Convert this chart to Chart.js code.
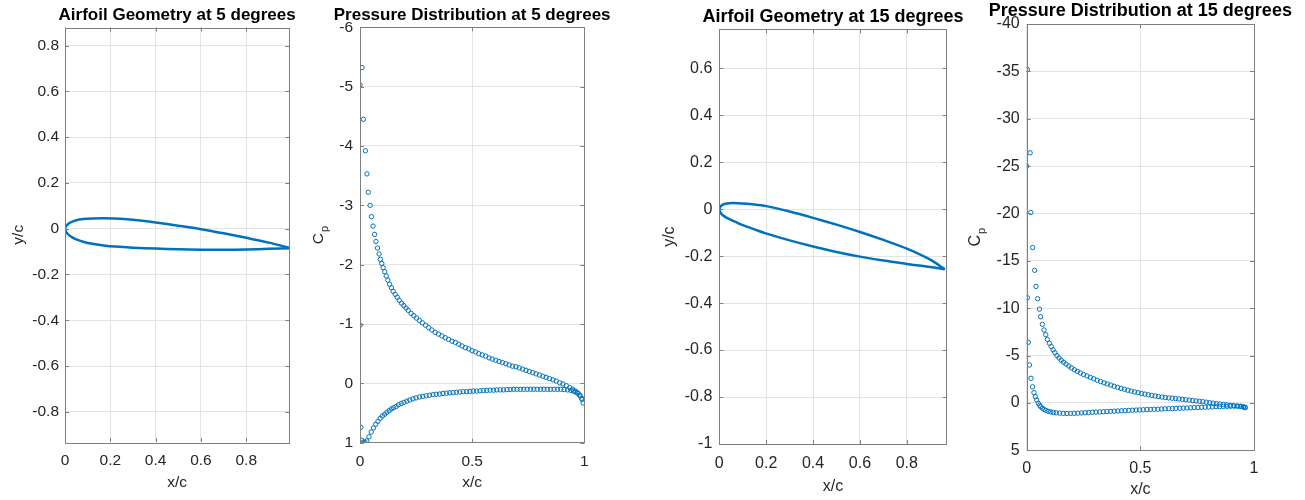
<!DOCTYPE html>
<html>
<head>
<meta charset="utf-8">
<title>Airfoil geometry and pressure distribution</title>
<script src="https://cdn.jsdelivr.net/npm/chart.js@4.4.1/dist/chart.umd.min.js"></script>
<style>
  html, body { margin: 0; padding: 0; background: #fff; }
  #fig { position: relative; width: 1305px; height: 500px; overflow: hidden; }
  #fig canvas { position: absolute; top: 0; }
</style>
</head>
<body>
<div id="fig">
  <canvas id="geo5" width="300" height="500" style="left:0px"></canvas>
  <canvas id="cp5" width="360" height="500" style="left:300px"></canvas>
  <canvas id="geo15" width="310" height="500" style="left:660px"></canvas>
  <canvas id="cp15" width="345" height="500" style="left:960px"></canvas>
</div>
<script>
'use strict';

/* AIRFOIL GEOMETRY — 5 deg (x/c, y/c) */
const upper5X = [0, 0.005, 0.015, 0.03, 0.05, 0.08, 0.12, 0.17, 0.22, 0.3, 0.4, 0.5, 0.6, 0.7, 0.8, 0.9, 0.996];
const upper5Y = [0, 0.012, 0.022, 0.030, 0.037, 0.042, 0.045, 0.046, 0.045, 0.039, 0.027, 0.013, -0.002, -0.020, -0.040, -0.061, -0.085];
const lower5X = [0, 0.005, 0.015, 0.03, 0.05, 0.08, 0.12, 0.17, 0.22, 0.3, 0.4, 0.5, 0.6, 0.7, 0.8, 0.9, 0.996];
const lower5Y = [0, -0.014, -0.026, -0.037, -0.047, -0.057, -0.066, -0.073, -0.078, -0.083, -0.087, -0.090, -0.092, -0.092, -0.091, -0.088, -0.085];

/* AIRFOIL GEOMETRY — 15 deg */
const upper15X = [0, 0.005, 0.015, 0.03, 0.06, 0.1, 0.15, 0.2, 0.3, 0.4, 0.5, 0.6, 0.7, 0.8, 0.9, 0.962];
const upper15Y = [0, 0.011, 0.019, 0.024, 0.026, 0.024, 0.020, 0.013, -0.010, -0.037, -0.066, -0.097, -0.131, -0.168, -0.215, -0.256];
const lower15X = [0, 0.005, 0.015, 0.03, 0.05, 0.067, 0.1, 0.15, 0.195, 0.3, 0.4, 0.5, 0.6, 0.7, 0.8, 0.9, 0.962];
const lower15Y = [0, -0.015, -0.026, -0.036, -0.046, -0.053, -0.068, -0.086, -0.102, -0.133, -0.159, -0.182, -0.202, -0.219, -0.233, -0.246, -0.256];

/* PRESSURE COEFFICIENT — 5 deg, suction side */
const cpUpper5X = [0, 0.009, 0.015, 0.024, 0.031, 0.037, 0.045, 0.051, 0.058, 0.065, 0.071, 0.078, 0.085, 0.091, 0.097,
  0.103, 0.110, 0.117, 0.124, 0.132, 0.140, 0.148, 0.157, 0.166, 0.175, 0.185, 0.195, 0.205, 0.215, 0.228, 0.240,
  0.252, 0.265, 0.278, 0.292, 0.306, 0.320, 0.335, 0.350, 0.365, 0.380, 0.395, 0.410, 0.425, 0.440, 0.455, 0.470,
  0.485, 0.500, 0.515, 0.530, 0.545, 0.560, 0.575, 0.590, 0.605, 0.620, 0.635, 0.650, 0.665, 0.680, 0.695, 0.710,
  0.725, 0.740, 0.755, 0.770, 0.785, 0.800, 0.815, 0.830, 0.845, 0.860, 0.875, 0.890, 0.905, 0.920, 0.935, 0.948,
  0.960, 0.970, 0.980, 0.988, 0.995];
const cpUpper5 = [-5.03, -5.32, -4.45, -3.92, -3.53, -3.22, -3.00, -2.81, -2.65, -2.51, -2.39, -2.28, -2.18, -2.09, -2.02,
  -1.95, -1.88, -1.81, -1.74, -1.67, -1.61, -1.55, -1.50, -1.45, -1.40, -1.35, -1.31, -1.27, -1.23, -1.18, -1.14,
  -1.10, -1.06, -1.02, -0.98, -0.94, -0.90, -0.86, -0.83, -0.80, -0.77, -0.74, -0.71, -0.69, -0.66, -0.63, -0.60,
  -0.58, -0.55, -0.53, -0.50, -0.48, -0.46, -0.43, -0.41, -0.39, -0.37, -0.35, -0.33, -0.31, -0.29, -0.28, -0.26,
  -0.24, -0.22, -0.20, -0.18, -0.16, -0.14, -0.12, -0.10, -0.08, -0.06, -0.04, -0.01, 0.01, 0.04, 0.07, 0.10,
  0.13, 0.16, 0.20, 0.25, 0.33];

/* PRESSURE COEFFICIENT — 5 deg, pressure side */
const cpLower5X = [0, 0.004, 0.008, 0.015, 0.022, 0.030, 0.040, 0.050, 0.060, 0.070, 0.080, 0.090, 0.100, 0.110, 0.120,
  0.130, 0.140, 0.150, 0.161, 0.172, 0.184, 0.196, 0.209, 0.222, 0.236, 0.250, 0.265, 0.280, 0.295, 0.310, 0.325,
  0.340, 0.355, 0.370, 0.385, 0.400, 0.415, 0.430, 0.445, 0.460, 0.475, 0.490, 0.505, 0.520, 0.535, 0.550, 0.565,
  0.580, 0.595, 0.610, 0.625, 0.640, 0.655, 0.670, 0.685, 0.700, 0.715, 0.730, 0.745, 0.760, 0.775, 0.790, 0.805,
  0.820, 0.835, 0.850, 0.865, 0.880, 0.895, 0.910, 0.925, 0.940, 0.952, 0.962, 0.972, 0.981, 0.990];
const cpLower5 = [-0.98, 0.74, 0.96, 0.99, 0.99, 0.97, 0.90, 0.82, 0.75, 0.69, 0.64, 0.59, 0.55, 0.52, 0.49,
  0.46, 0.43, 0.41, 0.39, 0.36, 0.34, 0.32, 0.30, 0.28, 0.26, 0.245, 0.23, 0.22, 0.21, 0.20, 0.19,
  0.185, 0.18, 0.17, 0.165, 0.16, 0.155, 0.15, 0.145, 0.14, 0.14, 0.135, 0.13, 0.13, 0.125, 0.12, 0.12,
  0.115, 0.115, 0.11, 0.11, 0.11, 0.105, 0.105, 0.10, 0.10, 0.10, 0.10, 0.10, 0.10, 0.10, 0.10, 0.10,
  0.10, 0.10, 0.10, 0.10, 0.10, 0.10, 0.105, 0.11, 0.12, 0.13, 0.15, 0.17, 0.21, 0.27];

/* PRESSURE COEFFICIENT — 15 deg, suction side */
const cpUpper15X = [0.003, 0.015, 0.018, 0.026, 0.035, 0.041, 0.048, 0.056, 0.061, 0.069, 0.076, 0.084, 0.091, 0.100,
  0.108, 0.116, 0.124, 0.133, 0.142, 0.152, 0.162, 0.173, 0.185, 0.197, 0.210, 0.223, 0.236, 0.250, 0.265, 0.280,
  0.295, 0.310, 0.325, 0.340, 0.355, 0.370, 0.385, 0.400, 0.415, 0.430, 0.445, 0.460, 0.475, 0.490, 0.505, 0.520,
  0.535, 0.550, 0.565, 0.580, 0.595, 0.610, 0.625, 0.640, 0.655, 0.670, 0.685, 0.700, 0.715, 0.730, 0.745, 0.760,
  0.775, 0.790, 0.805, 0.820, 0.835, 0.850, 0.865, 0.880, 0.895, 0.910, 0.925, 0.940, 0.952, 0.960];
const cpUpper15 = [-35.2, -26.4, -20.1, -16.4, -14.0, -12.3, -11.0, -9.9, -9.1, -8.3, -7.7, -7.2, -6.7, -6.3,
  -5.95, -5.6, -5.3, -5.0, -4.75, -4.5, -4.3, -4.1, -3.9, -3.7, -3.5, -3.33, -3.17, -3.0, -2.85, -2.7,
  -2.55, -2.4, -2.26, -2.12, -2.0, -1.88, -1.76, -1.65, -1.54, -1.44, -1.34, -1.25, -1.16, -1.08, -1.0, -0.93,
  -0.86, -0.79, -0.73, -0.67, -0.62, -0.57, -0.53, -0.50, -0.46, -0.42, -0.38, -0.34, -0.30, -0.25, -0.21, -0.17,
  -0.13, -0.08, -0.03, 0.02, 0.07, 0.12, 0.16, 0.20, 0.24, 0.28, 0.32, 0.36, 0.41, 0.46];

/* PRESSURE COEFFICIENT — 15 deg, pressure side */
const cpLower15X = [0, 0.003, 0.007, 0.012, 0.019, 0.026, 0.032, 0.038, 0.044, 0.051, 0.057, 0.062, 0.069, 0.076,
  0.085, 0.095, 0.106, 0.117, 0.130, 0.145, 0.161, 0.177, 0.193, 0.209, 0.225, 0.241, 0.257, 0.273, 0.289, 0.305,
  0.321, 0.337, 0.353, 0.369, 0.385, 0.401, 0.417, 0.433, 0.449, 0.465, 0.481, 0.497, 0.513, 0.529, 0.545, 0.561,
  0.577, 0.593, 0.609, 0.625, 0.641, 0.657, 0.673, 0.689, 0.705, 0.721, 0.737, 0.753, 0.769, 0.785, 0.801, 0.817,
  0.833, 0.849, 0.865, 0.881, 0.897, 0.913, 0.929, 0.943, 0.954, 0.962];
const cpLower15 = [-25.0, -11.1, -6.4, -4.0, -2.6, -1.7, -1.08, -0.66, -0.31, 0.04, 0.25, 0.40, 0.55, 0.68,
  0.79, 0.89, 0.95, 1.00, 1.04, 1.08, 1.10, 1.11, 1.11, 1.10, 1.08, 1.06, 1.03, 1.01, 0.99, 0.97,
  0.95, 0.93, 0.91, 0.89, 0.87, 0.85, 0.83, 0.81, 0.79, 0.77, 0.75, 0.74, 0.72, 0.70, 0.69, 0.67,
  0.66, 0.64, 0.62, 0.61, 0.59, 0.57, 0.56, 0.54, 0.53, 0.51, 0.49, 0.48, 0.46, 0.45, 0.43, 0.42,
  0.40, 0.39, 0.37, 0.36, 0.35, 0.34, 0.34, 0.36, 0.42, 0.50];

/* STYLE */
const FONT = "'Liberation Sans', Arial, Helvetica, sans-serif";
const BLUE = '#0072BD';
const INK = '#262626';
const GRID = '#e4e4e4';
const BOX = '#7f7f7f';

const pts = (xs, ys) => xs.map((x, i) => ({ x, y: ys[i] }));
const fmt = v => String(+Number(v).toFixed(2));

function lineSet(xs, ys) {
  return { data: pts(xs, ys), showLine: true, borderColor: BLUE, borderWidth: 2.5, pointRadius: 0, tension: 0.3 };
}
function dotSet(xs, ys) {
  return { data: pts(xs, ys), showLine: false, pointStyle: 'circle', pointRadius: 2.2,
    pointBorderWidth: 1, borderColor: BLUE, pointBorderColor: BLUE, backgroundColor: 'rgba(0,0,0,0)' };
}

/* BOX + INWARD TICKS (matlab look) */
const boxPlugin = {
  id: 'matBox',
  afterDatasetsDraw(chart) {
    const { ctx, chartArea: a, scales } = chart;
    const len = 4;
    ctx.save();
    ctx.strokeStyle = BOX;
    ctx.lineWidth = 1;
    ctx.beginPath();
    scales.x.ticks.forEach(t => {
      const px = Math.round(scales.x.getPixelForValue(t.value)) + 0.5;
      ctx.moveTo(px, a.bottom); ctx.lineTo(px, a.bottom - len);
      ctx.moveTo(px, a.top); ctx.lineTo(px, a.top + len);
    });
    scales.y.ticks.forEach(t => {
      const py = Math.round(scales.y.getPixelForValue(t.value)) + 0.5;
      ctx.moveTo(a.left, py); ctx.lineTo(a.left + len, py);
      ctx.moveTo(a.right, py); ctx.lineTo(a.right - len, py);
    });
    ctx.stroke();
    ctx.strokeRect(Math.round(a.left) + 0.5, Math.round(a.top) + 0.5,
      Math.round(a.right - a.left), Math.round(a.bottom - a.top));
    ctx.restore();
  }
};

/* TITLE centred on the axes box, not squeezed to its width */
const titlePlugin = {
  id: 'matTitle',
  afterDraw(chart, args, opts) {
    const { ctx, chartArea: a } = chart;
    ctx.save();
    ctx.fillStyle = '#000';
    ctx.font = `bold ${opts.size}px ${FONT}`;
    ctx.textAlign = 'center';
    ctx.textBaseline = 'middle';
    ctx.fillText(opts.text, (a.left + a.right) / 2, opts.y);
    ctx.restore();
  }
};

/* C_p axis label with subscript */
function cpLabel(baseX, size) {
  return {
    id: 'cpLabel',
    afterDraw(chart) {
      const { ctx, chartArea: a } = chart;
      const midY = (a.top + a.bottom) / 2;
      ctx.save();
      ctx.fillStyle = INK;
      ctx.textBaseline = 'alphabetic';
      ctx.textAlign = 'left';
      ctx.font = `${size}px ${FONT}`;
      const wC = ctx.measureText('C').width;
      ctx.font = `${Math.round(size * 0.7)}px ${FONT}`;
      const wP = ctx.measureText('p').width;
      ctx.translate(baseX, midY);
      ctx.rotate(-Math.PI / 2);
      const u0 = -(wC + wP + 1) / 2;
      ctx.font = `${size}px ${FONT}`;
      ctx.fillText('C', u0, 0);
      ctx.font = `${Math.round(size * 0.7)}px ${FONT}`;
      ctx.fillText('p', u0 + wC + 1, 5);
      ctx.restore();
    }
  };
}

function makeChart(id, c) {
  const el = document.getElementById(id);
  const tickFont = { family: FONT, size: c.tickSize, lineHeight: 1.2 };
  const plugins = [boxPlugin, titlePlugin];
  if (c.cp) plugins.push(cpLabel(c.cp, c.tickSize));
  return new Chart(el, {
    type: 'scatter',
    data: { datasets: c.datasets },
    options: {
      responsive: false,
      animation: false,
      events: [],
      layout: { padding: { left: 0, right: c.padRight, top: c.top, bottom: 0 }, autoPadding: false },
      plugins: {
        legend: { display: false },
        tooltip: { enabled: false },
        title: { display: false },
        matTitle: { text: c.title, size: c.titleSize, y: c.titleY }
      },
      scales: {
        x: {
          type: 'linear', min: c.xMin, max: c.xMax,
          ticks: { stepSize: c.xStep, includeBounds: false, padding: c.xTickPad, color: INK, font: tickFont,
            maxRotation: 0, autoSkip: false, callback: fmt },
          grid: { color: GRID, drawTicks: false },
          border: { display: false },
          title: { display: true, text: 'x/c', color: INK, font: tickFont, padding: { top: 0, bottom: c.xTitlePad } },
          afterFit: s => { s.height = c.xH; s.paddingLeft = 0; s.paddingRight = 0; }
        },
        y: {
          type: 'linear', min: c.yMin, max: c.yMax, reverse: !!c.reverse,
          ticks: { stepSize: c.yStep, includeBounds: false, padding: c.yTickPad, color: INK, font: tickFont,
            autoSkip: false, callback: fmt },
          grid: { color: GRID, drawTicks: false },
          border: { display: false },
          title: { display: !!c.yTitle, text: c.yTitle || '', color: INK, font: tickFont,
            padding: { top: c.yTitlePad || 0, bottom: 0 } },
          afterFit: s => { s.width = c.yW; s.paddingTop = 0; s.paddingBottom = 0; }
        }
      }
    },
    plugins
  });
}

window.addEventListener('DOMContentLoaded', () => {
  makeChart('geo5', {
    title: 'Airfoil Geometry at 5 degrees', titleSize: 17, titleY: 15, top: 27.5, tickSize: 15.5,
    datasets: [lineSet(upper5X, upper5Y), lineSet(lower5X, lower5Y)],
    xMin: 0, xMax: 0.99, xStep: 0.2, yMin: -0.932, yMax: 0.879, yStep: 0.2,
    yW: 65, padRight: 10.7, xH: 58, xTickPad: 9.7, xTitlePad: 7.7, yTickPad: 6, yTitle: 'y/c', yTitlePad: 9.7
  });
  makeChart('cp5', {
    title: 'Pressure Distribution at 5 degrees', titleSize: 17, titleY: 15, top: 27.3, tickSize: 15.5,
    datasets: [dotSet(cpUpper5X, cpUpper5), dotSet(cpLower5X, cpLower5)],
    xMin: 0, xMax: 1, xStep: 0.5, yMin: -6, yMax: 1, yStep: 1, reverse: true,
    yW: 60, padRight: 75.7, xH: 57.3, xTickPad: 9.7, xTitlePad: 7.7, yTickPad: 7, cp: 23
  });
  makeChart('geo15', {
    title: 'Airfoil Geometry at 15 degrees', titleSize: 18, titleY: 17.5, top: 29.3, tickSize: 16,
    datasets: [lineSet(upper15X, upper15Y), lineSet(lower15X, lower15Y)],
    xMin: 0, xMax: 0.97, xStep: 0.2, yMin: -1, yMax: 0.766, yStep: 0.2,
    yW: 59.3, padRight: 23.3, xH: 56, xTickPad: 9.7, xTitlePad: 3.7, yTickPad: 7, yTitle: 'y/c', yTitlePad: 0
  });
  makeChart('cp15', {
    title: 'Pressure Distribution at 15 degrees', titleSize: 18, titleY: 11, top: 24, tickSize: 16,
    datasets: [dotSet(cpUpper15X, cpUpper15), dotSet(cpLower15X, cpLower15)],
    xMin: 0, xMax: 1, xStep: 0.5, yMin: -40, yMax: 5, yStep: 5, reverse: true,
    yW: 66.7, padRight: 51, xH: 49.7, xTickPad: 9.1, xTitlePad: 0.4, yTickPad: 7, cp: 20
  });
});
</script>
</body>
</html>
